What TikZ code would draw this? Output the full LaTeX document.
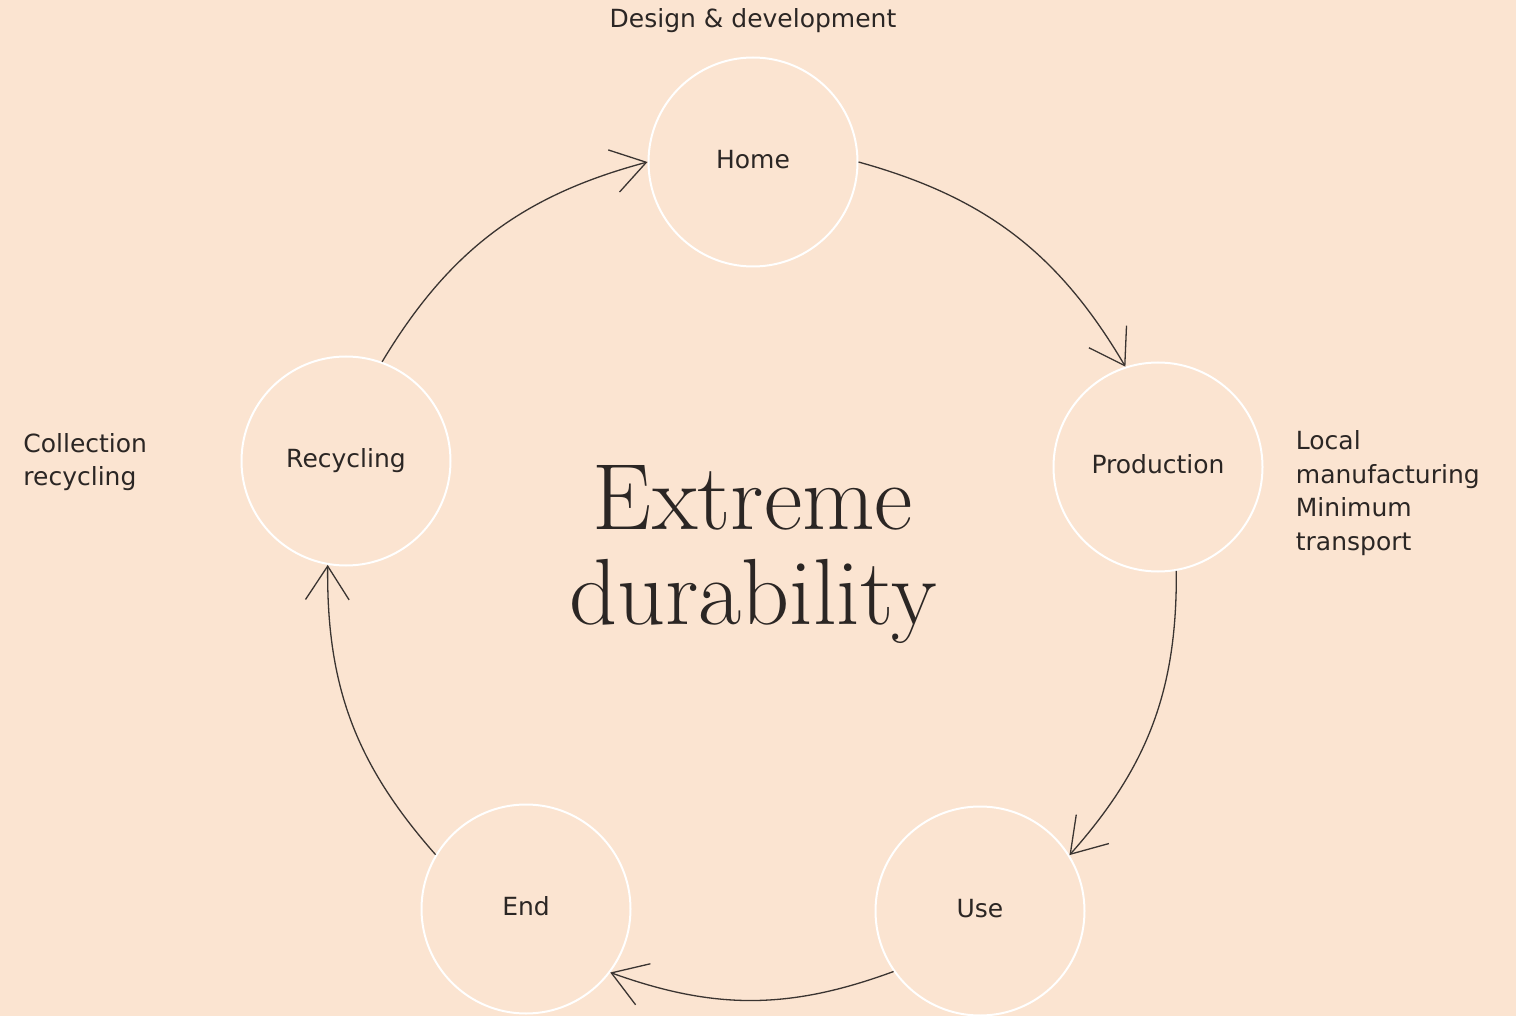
\documentclass[tikz,border=0pt]{standalone}
\usepackage{fontspec}
\usepackage{tikz}
\usetikzlibrary{arrows.meta,positioning}
\newfontfamily\labelfont{DejaVu Sans}
\definecolor{cycpeach}{HTML}{FBE4D1}
\definecolor{cycink}{HTML}{2B2624}
\definecolor{cycline}{HTML}{3A3431}

\begin{document}
\begin{tikzpicture}[
  x=0.5pt,y=-0.5pt,
  stage/.style={circle,draw=white,line width=1pt,minimum size=104.5pt,inner sep=0pt,text=cycink,text height=9.5pt,text depth=3pt,font=\labelfont\fontsize{12.5}{16.75}\selectfont},
  note/.style={inner sep=0pt,text=cycink,align=left,font=\labelfont\fontsize{12.5}{16.75}\selectfont},
  arr/.style={-{Straight Barb[length=16.8pt,width=21.8pt]},line width=0.65pt,draw=cycline}
]
\useasboundingbox (0,0) rectangle (1516,1016);
\fill[cycpeach] (0,0) rectangle (1516,1016);

% the five stages of the loop
\node[stage] (home) at (753,162) {Home};
\node[stage] (prod) at (1158,467) {Production};
\node[stage] (use) at (980,911) {Use};
\node[stage] (eol) at (526,909) {End};
\node[stage] (recyc) at (346,461) {Recycling};

\node[text=cycink,font=\fontsize{47}{47.5}\selectfont,align=center,inner sep=0pt] (title) at (753,555) {Extreme\\durability};

\draw[arr] (home.0) to[bend left=22] (prod.108);
\draw[arr] (prod.280) to[bend left=21] (use.32);
\draw[arr] (use.215) to[bend left=20] (eol.323);
\draw[arr] (eol.149) to[bend left=21] (recyc.260);
\draw[arr] (recyc.70) to[bend left=22] (home.180);

% side notes
\node[note,above=11.5pt of home] (design) {Design \& development};
\node[note,anchor=west] (collect) at (23,462) {Collection\\recycling};
\node[note,right=16pt of prod,yshift=-13pt] (local) {Local\\manufacturing\\Minimum\\transport};
\end{tikzpicture}
\end{document}
